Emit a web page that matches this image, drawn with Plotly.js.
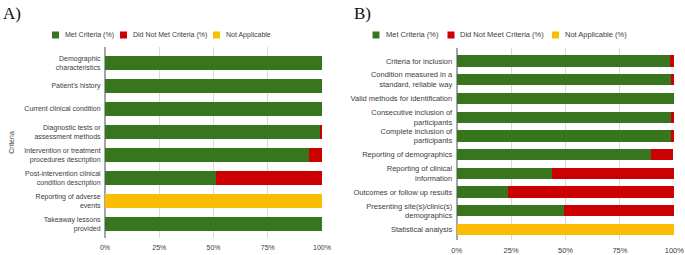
<!DOCTYPE html>
<html>
<head>
<meta charset="utf-8">
<script src="https://cdn.plot.ly/plotly-3.0.1.min.js"></script>
<style>
  html, body { margin: 0; padding: 0; background: #fff; }
  #chart { width: 685px; height: 255px; }
</style>
</head>
<body>
<div id="chart"></div>
<script>
// A) Case reports checklist
const criteriaA = [
  "Demographic<br>characteristics",
  "Patient's history",
  "Current clinical condition",
  "Diagnostic tests or<br>assessment methods",
  "Intervention or treatment<br>procedures description",
  "Post-intervention clinical<br>condition description",
  "Reporting of adverse<br>events",
  "Takeaway lessons<br>provided"
];
const metA    = [100, 100, 100, 99, 94, 51, 0, 100];
const notMetA = [0, 0, 0, 1, 6, 49, 0, 0];
const naA     = [0, 0, 0, 0, 0, 0, 100, 0];
const seriesA = ["Met Criteria (%)", "Did Not Met Criteria (%)", "Not Applicable"];

// B) Case series checklist
const criteriaB = [
  "Criteria for inclusion",
  "Condition measured in a<br>standard, reliable way",
  "Valid methods for identification",
  "Consecutive inclusion of<br>participants",
  "Complete inclusion of<br>participants",
  "Reporting of demographics",
  "Reporting of clinical<br>information",
  "Outcomes or follow up results",
  "Presenting site(s)/clinic(s)<br>demographics",
  "Statistical analysis"
];
const metB    = [98, 98.4, 100, 98.4, 98.4, 89.3, 43.8, 23.4, 49.2, 0];
const notMetB = [2, 1.6, 0, 1.6, 1.6, 10, 56.2, 76.6, 50.8, 0];
const naB     = [0, 0, 0, 0, 0, 0, 0, 0, 0, 100];
const seriesB = ["Met Criteria (%)", "Did Not Meet Criteria (%)", "Not Applicable (%)"];

const xTickVals = [0, 25, 50, 75, 100];
const xTickText = ["0%", "25%", "50%", "75%", "100%"];
const panelTitles = ["A)", "B)"];

// styling
const COLORS = ["#38761d", "#cc0000", "#fbbc04"];
const TEXT = "#3c3c3c";
const W = 685, H = 255;
const FONT = "Liberation Sans, Arial, sans-serif";
const px = x => x / W;
const py = y => 1 - y / H;

function barTraces(cats, valueSets, names, xa, ya) {
  return valueSets.map((vals, i) => ({
    type: "bar",
    orientation: "h",
    y: cats,
    x: vals,
    name: names[i],
    marker: { color: COLORS[i], line: { width: 0 } },
    xaxis: xa,
    yaxis: ya,
    showlegend: false,
    hoverinfo: "y+x+name"
  }));
}

const data = [
  ...barTraces(criteriaA, [metA, notMetA, naA], seriesA, "x", "y"),
  ...barTraces(criteriaB, [metB, notMetB, naB], seriesB, "x2", "y2")
];

function xAxis(left, right, anchor, size) {
  return {
    domain: [px(left), px(right)],
    anchor: anchor,
    range: [0, 100],
    tickmode: "array",
    tickvals: xTickVals,
    ticktext: xTickText,
    showgrid: true,
    gridcolor: "#dadada",
    gridwidth: 1,
    zeroline: true,
    zerolinecolor: "#a6a6a6",
    zerolinewidth: 2,
    showline: false,
    ticks: "outside",
    ticklen: 0,
    ticklabelstandoff: 3,
    tickfont: { family: FONT, size: size, color: TEXT },
    fixedrange: true
  };
}

function yAxis(top, bottom, anchor, n, pitch, topCenter, bottomCenter, size) {
  return {
    domain: [py(bottom), py(top)],
    anchor: anchor,
    type: "category",
    range: [(n - 1) + (bottom - bottomCenter) / pitch, -(topCenter - top) / pitch],
    showgrid: false,
    zeroline: false,
    showline: false,
    ticks: "outside",
    ticklen: 0,
    ticklabelstandoff: 2,
    tickfont: { family: FONT, size: size, color: TEXT },
    fixedrange: true
  };
}

// legend keys drawn as small squares with labels beside them
function legendItems(names, swatchLefts, yc, size) {
  const shapes = [], annotations = [];
  names.forEach((name, i) => {
    const x0 = swatchLefts[i];
    shapes.push({
      type: "rect", xref: "paper", yref: "paper",
      x0: px(x0), x1: px(x0 + 7), y0: py(yc + 3.5), y1: py(yc - 3.5),
      fillcolor: COLORS[i], line: { width: 0 }
    });
    annotations.push({
      xref: "paper", yref: "paper", x: px(x0 + 11), y: py(yc),
      xanchor: "left", yanchor: "middle", showarrow: false,
      text: name, font: { family: FONT, size: size, color: TEXT }
    });
  });
  return { shapes, annotations };
}

const legA = legendItems(seriesA, [52, 120, 213], 35, 7);
const legB = legendItems(seriesB, [372.5, 447.5, 552], 35, 7.5);

const titleAnns = [
  { x: px(1), y: py(2), text: panelTitles[0] },
  { x: px(352), y: py(2), text: panelTitles[1] }
].map(a => ({
  xref: "paper", yref: "paper", x: a.x, y: a.y, xanchor: "left", yanchor: "top",
  showarrow: false, text: a.text,
  font: { family: "Liberation Serif, Times New Roman, serif", size: 17, color: "#111" }
}));

const yA = yAxis(47, 238, "x", criteriaA.length, 23, 63, 224, 7);
yA.title = { text: "Criteria", font: { family: FONT, size: 7, color: TEXT }, standoff: 8 };

const layout = {
  width: W,
  height: H,
  margin: { l: 0, r: 0, t: 0, b: 0, pad: 0 },
  paper_bgcolor: "#fff",
  plot_bgcolor: "#fff",
  barmode: "stack",
  bargap: 0.4,
  showlegend: false,
  xaxis: xAxis(105, 322, "y", 7),
  yaxis: yA,
  xaxis2: xAxis(456.7, 674.3, "y2", 7.5),
  yaxis2: yAxis(48, 240, "x2", criteriaB.length, 18.72, 61, 229.5, 7.5),
  shapes: [...legA.shapes, ...legB.shapes],
  annotations: [...titleAnns, ...legA.annotations, ...legB.annotations]
};

Plotly.newPlot("chart", data, layout, { displayModeBar: false, staticPlot: true });
</script>
</body>
</html>
